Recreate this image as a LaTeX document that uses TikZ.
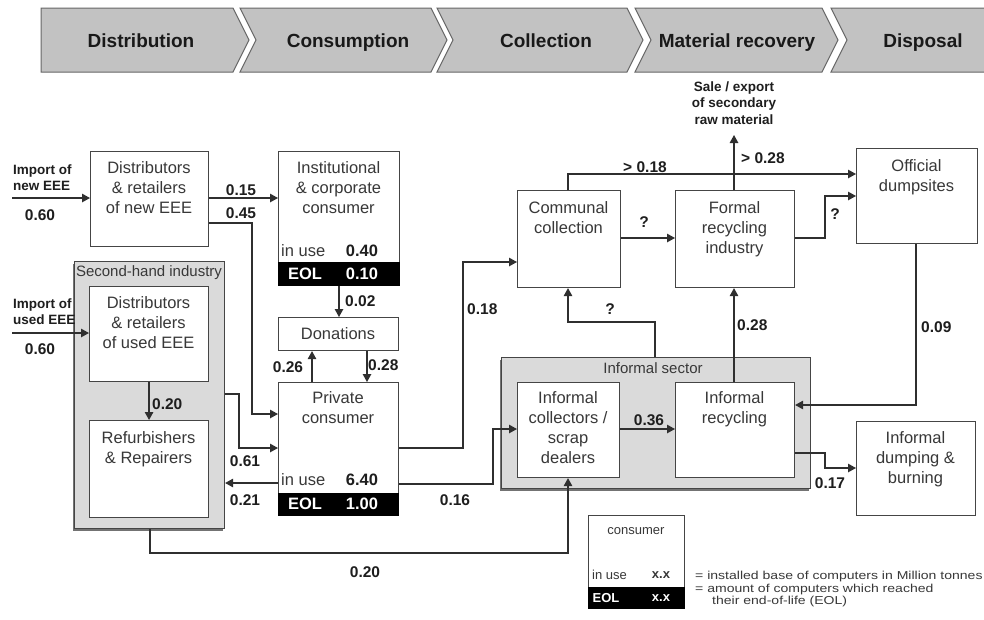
\documentclass[tikz,border=0pt]{standalone}
\usepackage{fontspec}
\setmainfont{Liberation Sans}
\newfontfamily\legfont[FakeStretch=1.22]{Liberation Sans}
\usetikzlibrary{arrows.meta,shadows}

\definecolor{lncol}{HTML}{2F2F2F}
\definecolor{bdcol}{HTML}{454545}
\definecolor{hdrcol}{HTML}{C2C2C2}
\definecolor{grpcol}{HTML}{DADADA}
\definecolor{txtcol}{HTML}{383838}
\definecolor{lblcol}{HTML}{1E1E1E}

\tikzset{
  box/.style={draw=bdcol, line width=1.1pt, fill=white, inner sep=0pt, anchor=north west},
  grpbox/.style={draw=bdcol, line width=1.1pt, fill=grpcol, inner sep=0pt, anchor=north west,
    drop shadow={shadow xshift=-2pt, shadow yshift=-2pt, fill=black!55, opacity=1}},
  eolbar/.style={draw=black, fill=black, inner sep=0pt, anchor=north west, line width=0.6pt},
  btxt/.style={font=\fontsize{16.5}{20}\selectfont, text=txtcol, align=center, inner sep=0pt, anchor=north},
  gtxt/.style={font=\fontsize{15}{18}\selectfont, text=txtcol, inner sep=0pt},
  lbl/.style={font=\bfseries\fontsize{15.5}{18}\selectfont, text=lblcol, inner sep=0pt},
  slbl/.style={font=\bfseries\fontsize{13.5}{16.5}\selectfont, text=lblcol, inner sep=0pt, align=left},
  usetxt/.style={font=\fontsize{16.5}{20}\selectfont, text=txtcol, inner sep=0pt},
  usebold/.style={font=\bfseries\fontsize{16.5}{20}\selectfont, text=lblcol, inner sep=0pt},
  eoltxt/.style={font=\bfseries\fontsize{16.5}{20}\selectfont, text=white, inner sep=0pt},
  hdrtxt/.style={font=\bfseries\fontsize{19}{22}\selectfont, text=black!90, inner sep=0pt, anchor=base},
  chev/.style={fill=hdrcol, draw=black!60, line width=1pt, line join=miter},
  arr/.style={draw=lncol, line width=1.2pt, -{Triangle[length=8pt,width=8.5pt]}},
  legsmall/.style={font=\fontsize{13}{15}\selectfont, text=txtcol, inner sep=0pt},
  legbold/.style={font=\bfseries\fontsize{13}{15}\selectfont, text=txtcol, inner sep=0pt},
  legtxt/.style={font=\legfont\fontsize{11.5}{13}\selectfont, text=txtcol, inner sep=0pt, anchor=west},
}

\begin{document}
\begin{tikzpicture}[x=1pt,y=-1pt]
\useasboundingbox (0,0) rectangle (984,619);
\fill[white] (0,0) rectangle (984,619);

% ---------- header chevrons ----------
\filldraw[chev] (41,8) -- (233,8) -- (249,40) -- (233,72) -- (41,72) -- cycle;
\filldraw[chev] (240,8) -- (431,8) -- (447,40) -- (431,72) -- (240,72) -- (256,40) -- cycle;
\filldraw[chev] (437,8) -- (627,8) -- (643,40) -- (627,72) -- (437,72) -- (453,40) -- cycle;
\filldraw[chev] (635,8) -- (822,8) -- (838,40) -- (822,72) -- (635,72) -- (651,40) -- cycle;
\filldraw[chev] (831,8) -- (992,8) -- (992,72) -- (831,72) -- (847,40) -- cycle;
\node[hdrtxt] (h1) at (141,47.5) {Distribution};
\node[hdrtxt] (h2) at (348,47.5) {Consumption};
\node[hdrtxt] (h3) at (546,47.5) {Collection};
\node[hdrtxt] (h4) at (737,47.5) {Material recovery};
\node[hdrtxt] (h5) at (923,47.5) {Disposal};

% ---------- groups ----------
\node[grpbox, minimum width=150pt, minimum height=267pt] (sh) at (74,261) {};
\node[gtxt] (shT) at (149,273) {Second-hand industry};
\node[grpbox, minimum width=309pt, minimum height=131pt] (infs) at (501,357) {};
\node[gtxt] (infsT) at (653,368) {Informal sector};

% ---------- boxes ----------
\node[box, minimum width=118pt, minimum height=95pt] (dn) at (90,151) {};
\node[btxt] (dnT) at (149,161) {Distributors\\\& retailers\\of new EEE};

\node[box, minimum width=121pt, minimum height=134pt] (inst) at (278,151) {};
\node[eolbar, minimum width=121pt, minimum height=23pt] (instE) at (278,262) {};
\node[btxt] (instT) at (338.5,161) {Institutional\\\& corporate\\consumer};
\node[usetxt, anchor=west] (instU) at (281,251) {in use};
\node[usebold] (instUv) at (362,251) {0.40};
\node[eoltxt] (instEo) at (305,274) {EOL};
\node[eoltxt] (instEv) at (362,274) {0.10};

\node[box, minimum width=119pt, minimum height=95pt] (du) at (89,286) {};
\node[btxt] (duT) at (148.5,296) {Distributors\\\& retailers\\of used EEE};

\node[box, minimum width=119pt, minimum height=97pt] (ref) at (89,420) {};
\node[btxt] (refT) at (148.5,431) {Refurbishers\\\& Repairers};

\node[box, minimum width=120pt, minimum height=33pt] (don) at (278,317) {};
\node[btxt, anchor=center] (donT) at (338,333.5) {Donations};

\node[box, minimum width=120pt, minimum height=133pt] (priv) at (278,382) {};
\node[eolbar, minimum width=120pt, minimum height=22pt] (privE) at (278,493) {};
\node[btxt] (privT) at (338,391) {Private\\consumer};
\node[usetxt, anchor=west] (privU) at (281,480) {in use};
\node[usebold] (privUv) at (362,480) {6.40};
\node[eoltxt] (privEo) at (305,504) {EOL};
\node[eoltxt] (privEv) at (362,504) {1.00};

\node[box, minimum width=103pt, minimum height=97pt] (comm) at (517,190) {};
\node[btxt] (commT) at (568.5,201) {Communal\\collection};

\node[box, minimum width=119pt, minimum height=97pt] (formal) at (675,190) {};
\node[btxt] (formalT) at (734.5,201) {Formal\\recycling\\industry};

\node[box, minimum width=121pt, minimum height=95pt] (off) at (856,148) {};
\node[btxt] (offT) at (916.5,159) {Official\\dumpsites};

\node[box, minimum width=102pt, minimum height=95pt] (icol) at (517,382) {};
\node[btxt] (icolT) at (568,391) {Informal\\collectors /\\scrap\\dealers};

\node[box, minimum width=119pt, minimum height=95pt] (irec) at (675,382) {};
\node[btxt] (irecT) at (734.5,391) {Informal\\recycling};

\node[box, minimum width=119pt, minimum height=94pt] (idump) at (856,421) {};
\node[btxt] (idumpT) at (915.5,431) {Informal\\dumping \&\\burning};

% ---------- legend ----------
\node[box, minimum width=96pt, minimum height=93pt] (leg) at (588,515) {};
\node[eolbar, minimum width=96pt, minimum height=21pt] (legE) at (588,587) {};
\node[legsmall] (legC) at (636,531) {consumer};
\node[legsmall, anchor=west] (legU) at (592,575) {in use};
\node[legbold] (legUx) at (661,575) {x.x};
\node[legbold, text=white] (legEo) at (606,598) {EOL};
\node[legbold, text=white] (legEx) at (661,598) {x.x};
\node[legtxt] (lt1) at (695,577) {= installed base of computers in Million tonnes};
\node[legtxt] (lt2) at (695,590) {= amount of computers which reached};
\node[legtxt] (lt3) at (712,602) {their end-of-life (EOL)};

% ---------- connectors ----------
\coordinate (impN) at (12,198);
\coordinate (impU) at (12,333);
\coordinate (saleC) at (734,135);
\draw[arr] (impN) -- (impN -| dn.west);
\draw[arr] (dn.east |- 0,198) -- (inst.west |- 0,198);
\draw[arr] (dn.east |- 0,223) -- (252,223) -- (252,414) -- (priv.west |- 0,414);
\draw[arr] (inst.south -| 339,0) -- (don.north -| 339,0);
\draw[arr] (priv.north -| 312,0) -- (don.south -| 312,0);
\draw[arr] (don.south -| 367,0) -- (priv.north -| 367,0);
\draw[arr] (impU) -- (impU -| du.west);
\draw[arr] (du.south) -- (ref.north);
\draw[arr] (sh.east |- 0,394) -- (239,394) -- (239,448) -- (priv.west |- 0,448);
\draw[arr] (priv.west |- 0,483) -- (sh.east |- 0,483);
\draw[arr] (priv.east |- 0,448) -- (463,448) -- (463,262) -- (comm.west |- 0,262);
\draw[arr] (priv.east |- 0,484) -- (493,484) -- (493,429) -- (icol.west |- 0,429);
\draw[arr] (sh.south -| 150,0) -- (150,553) -- (568,553) -- (icol.south -| 568,0);
\draw[arr] (comm.east |- 0,238) -- (formal.west |- 0,238);
\draw[arr] (comm.north -| 568,0) -- (568,174) -- (off.west |- 0,174);
\draw[arr] (formal.north -| 734,0) -- (saleC);
\draw[arr] (formal.east |- 0,238) -- (825,238) -- (825,196) -- (off.west |- 0,196);
\draw[arr] (infs.north -| 655,0) -- (655,322) -- (568,322) -- (comm.south -| 568,0);
\draw[arr] (irec.north -| 734,0) -- (formal.south -| 734,0);
\draw[arr] (icol.east |- 0,429) -- (irec.west |- 0,429);
\draw[arr] (off.south -| 916,0) -- (916,405) -- (irec.east |- 0,405);
\draw[arr] (irec.east |- 0,453) -- (825,453) -- (825,468) -- (idump.west |- 0,468);

% ---------- labels ----------
\node[slbl, anchor=west] (impNl) at (13,177.5) {Import of\\new EEE};
\node[lbl] (l060a) at (40,215) {0.60};
\node[slbl, anchor=west] (impUl) at (13,311.5) {Import of\\used EEE};
\node[lbl] (l060b) at (40,349) {0.60};
\node[slbl, align=center] (sale) at (734,103) {Sale / export\\of secondary\\raw material};
\node[lbl] (l015) at (241,190) {0.15};
\node[lbl] (l045) at (241,213) {0.45};
\node[lbl, anchor=west] (l002) at (345,301) {0.02};
\node[lbl] (l026) at (288,367) {0.26};
\node[lbl, anchor=west] (l028a) at (368,365) {0.28};
\node[lbl, anchor=west] (l020a) at (152,404) {0.20};
\node[lbl] (l061) at (245,461) {0.61};
\node[lbl] (l021) at (245,500) {0.21};
\node[lbl, anchor=west] (l018) at (467,309) {0.18};
\node[lbl] (l016) at (455,500) {0.16};
\node[lbl] (l020b) at (365,572) {0.20};
\node[lbl] (lq1) at (644,222) {?};
\node[lbl] (lg018) at (645,167) {> 0.18};
\node[lbl, anchor=west] (lg028) at (741,158) {> 0.28};
\node[lbl] (lq2) at (835,214) {?};
\node[lbl] (lq3) at (610,309) {?};
\node[lbl, anchor=west] (l028b) at (737,325) {0.28};
\node[lbl] (l036) at (649,420) {0.36};
\node[lbl, anchor=west] (l009) at (921,327) {0.09};
\node[lbl] (l017) at (830,483) {0.17};
\end{tikzpicture}
\end{document}
